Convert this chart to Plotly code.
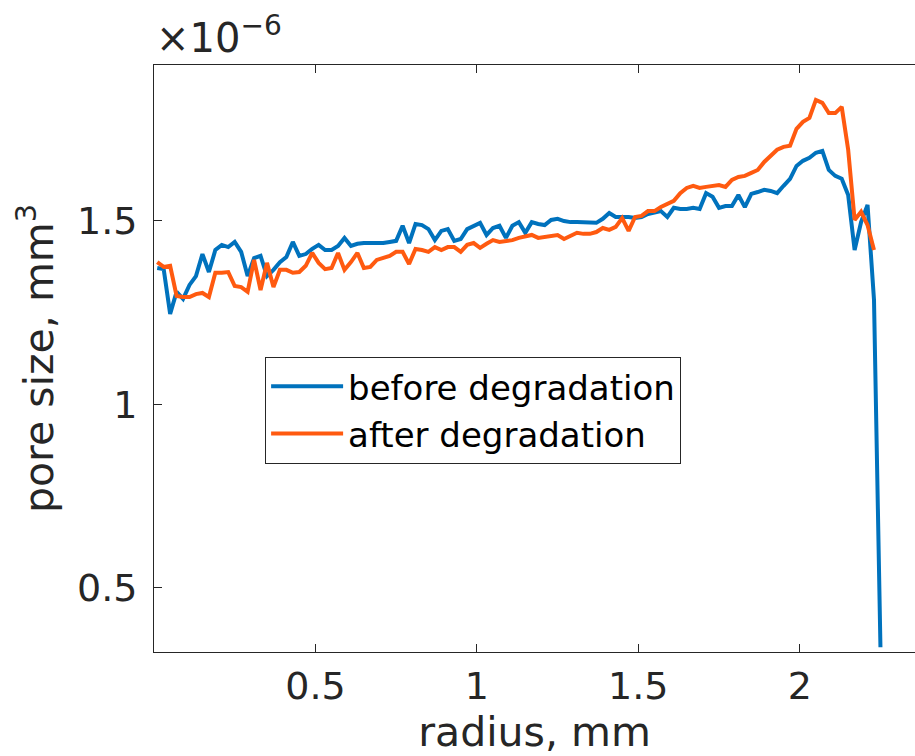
import plotly.graph_objects as go

# radius grid (mm)
radius = [round(0.01 + 0.02 * i, 2) for i in range(113)]

# pore size in units of 1e-6 mm^3
before_degradation = [
    1.371, 1.368, 1.246, 1.306, 1.287, 1.325, 1.349, 1.409, 1.360, 1.420,
    1.434, 1.428, 1.442, 1.415, 1.349, 1.398, 1.404, 1.349, 1.366, 1.387,
    1.401, 1.442, 1.404, 1.409, 1.423, 1.434, 1.420, 1.420, 1.431, 1.453,
    1.431, 1.437, 1.439, 1.439, 1.437, 1.439, 1.442, 1.445, 1.486, 1.439,
    1.491, 1.488, 1.477, 1.447, 1.472, 1.477, 1.445, 1.450, 1.477, 1.486,
    1.494, 1.461, 1.480, 1.486, 1.453, 1.486, 1.496, 1.467, 1.496, 1.491,
    1.488, 1.502, 1.505, 1.499, 1.496, 1.496, 1.496, 1.496, 1.494, 1.505,
    1.521, 1.510, 1.510, 1.510, 1.507, 1.510, 1.518, 1.521, 1.526, 1.510,
    1.535, 1.532, 1.532, 1.535, 1.532, 1.575, 1.565, 1.535, 1.540, 1.540,
    1.570, 1.537, 1.573, 1.578, 1.584, 1.581, 1.575, 1.595, 1.614, 1.649,
    1.663, 1.671, 1.685, 1.690, 1.638, 1.622, 1.614, 1.570, 1.420, 1.496,
    1.543, 1.284, 0.338,
]

after_degradation = [
    1.387, 1.374, 1.377, 1.295, 1.292, 1.292, 1.300, 1.303, 1.292, 1.358,
    1.358, 1.360, 1.322, 1.319, 1.306, 1.393, 1.311, 1.385, 1.319, 1.366,
    1.366, 1.358, 1.360, 1.377, 1.412, 1.385, 1.368, 1.371, 1.412, 1.366,
    1.387, 1.412, 1.371, 1.374, 1.393, 1.398, 1.404, 1.415, 1.415, 1.382,
    1.423, 1.420, 1.415, 1.428, 1.420, 1.428, 1.428, 1.415, 1.434, 1.439,
    1.426, 1.437, 1.447, 1.442, 1.445, 1.447, 1.453, 1.456, 1.461, 1.453,
    1.456, 1.458, 1.461, 1.450, 1.458, 1.467, 1.464, 1.464, 1.469, 1.480,
    1.475, 1.483, 1.507, 1.472, 1.510, 1.513, 1.526, 1.526, 1.537, 1.546,
    1.554, 1.575, 1.589, 1.595, 1.589, 1.592, 1.595, 1.597, 1.592, 1.611,
    1.619, 1.622, 1.630, 1.638, 1.660, 1.676, 1.693, 1.701, 1.704, 1.750,
    1.769, 1.780, 1.829, 1.821, 1.793, 1.793, 1.810, 1.693, 1.502, 1.524,
    1.488, 1.420,
]

x_ticks = [0.5, 1, 1.5, 2]
x_ticktext = ["0.5", "1", "1.5", "2"]
y_ticks = [0.5, 1, 1.5]
y_ticktext = ["0.5", "1", "1.5"]

FONT = "DejaVu Sans"
TXT = "#262626"

fig = go.Figure()
fig.add_trace(go.Scatter(
    x=radius, y=before_degradation, mode="lines", name="before degradation",
    line=dict(color="#0072BD", width=4)))
fig.add_trace(go.Scatter(
    x=radius[:len(after_degradation)], y=after_degradation, mode="lines",
    name="after degradation", line=dict(color="#FF5A10", width=4)))

axis_common = dict(
    showgrid=False, zeroline=False, showline=True, linecolor=TXT, linewidth=1,
    ticks="inside", ticklen=8, tickwidth=1, tickcolor=TXT, automargin=False,
    tickfont=dict(family=FONT, size=38, color=TXT),
)

fig.update_layout(
    width=915, height=756, autosize=False,
    margin=dict(l=154, r=0, t=65, b=104, pad=0),
    paper_bgcolor="white", plot_bgcolor="white",
    font=dict(family=FONT, color=TXT),
    xaxis=dict(
        range=[0, 2.357], tickvals=x_ticks, ticktext=x_ticktext,
        mirror="ticks",
        title=dict(text="radius, mm", font=dict(family=FONT, size=41, color=TXT),
                   standoff=2),
        **axis_common),
    yaxis=dict(
        range=[0.325, 1.924], tickvals=y_ticks, ticktext=y_ticktext,
        mirror=False, ticklabelstandoff=8,
        title=dict(text="pore size, mm<sup>3</sup>",
                   font=dict(family=FONT, size=41, color=TXT), standoff=10),
        **axis_common),
    legend=dict(
        x=0.146, y=0.412, xanchor="left", yanchor="middle",
        bgcolor="white", bordercolor=TXT, borderwidth=1,
        font=dict(family=FONT, size=34, color="black"),
        tracegroupgap=0, itemwidth=72,
    ),
    showlegend=True,
)

fig.add_annotation(
    text="×10<sup>−6</sup>", xref="paper", yref="paper", x=0, y=1,
    xanchor="left", yanchor="bottom", showarrow=False, xshift=0, yshift=2,
    font=dict(family=FONT, size=40, color=TXT),
)

fig.write_html(
    "out.html",
    config={"displayModeBar": False},
    post_script="document.body.style.margin='0';document.body.style.overflow='hidden';",
)
